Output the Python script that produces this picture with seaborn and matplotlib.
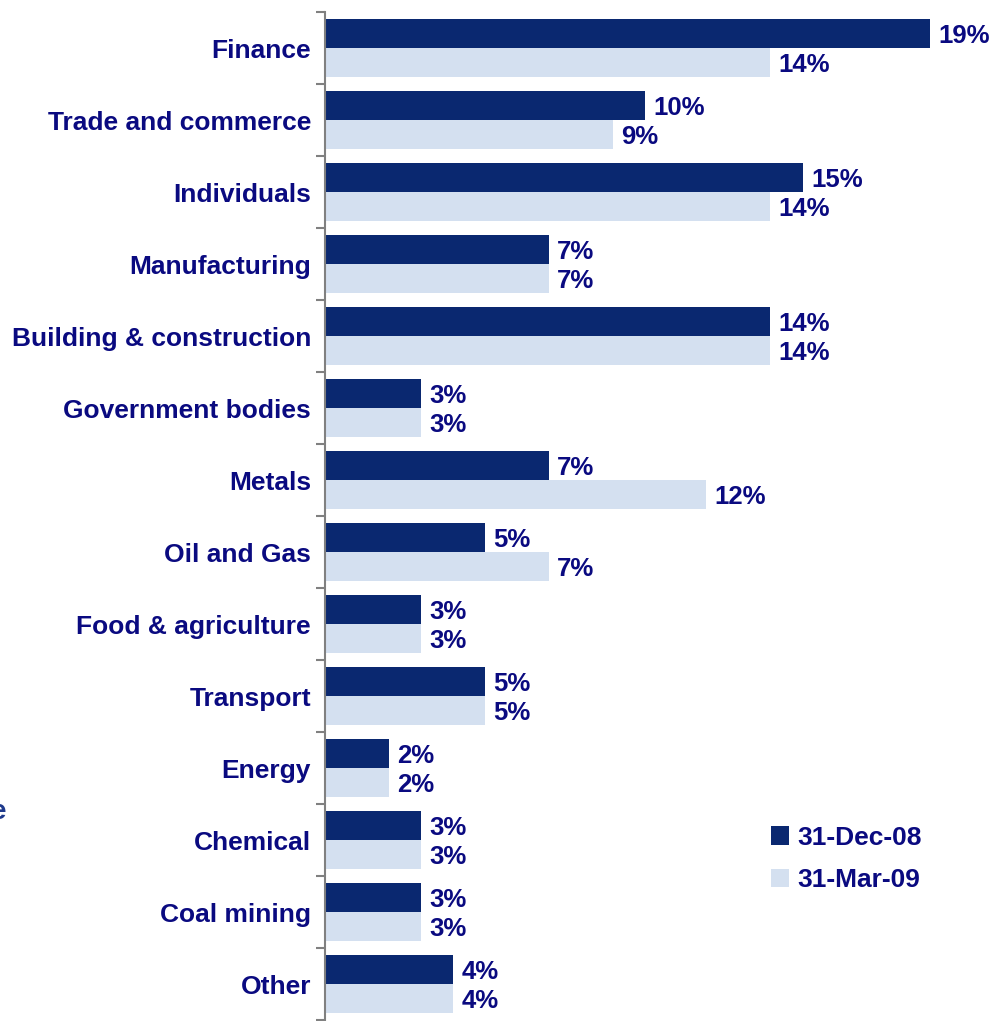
import pandas as pd
import matplotlib
matplotlib.use("Agg")
import matplotlib.pyplot as plt
import seaborn as sns

# Loan portfolio by sector, two reporting dates
sectors = ["Finance", "Trade and commerce", "Individuals", "Manufacturing",
           "Building & construction", "Government bodies", "Metals", "Oil and Gas",
           "Food & agriculture", "Transport", "Energy", "Chemical", "Coal mining", "Other"]
dec08 = [18.9, 10.0, 14.95, 7.0, 13.9, 3.0, 7.0, 5.0, 3.0, 5.0, 2.0, 3.0, 3.0, 4.0]
mar09 = [13.9, 9.0, 13.9, 7.0, 13.9, 3.0, 11.9, 7.0, 3.0, 5.0, 2.0, 3.0, 3.0, 4.0]
dec08_labels = ["19%", "10%", "15%", "7%", "14%", "3%", "7%", "5%", "3%", "5%", "2%", "3%", "3%", "4%"]
mar09_labels = ["14%", "9%", "14%", "7%", "14%", "3%", "12%", "7%", "3%", "5%", "2%", "3%", "3%", "4%"]
dates = ["31-Dec-08", "31-Mar-09"]

DARK = "#0A2870"
LIGHT = "#D4E0F0"
TEXT = "#0A0A80"

df = pd.DataFrame({
    "sector": sectors * 2,
    "value": dec08 + mar09,
    "date": [dates[0]] * len(sectors) + [dates[1]] * len(sectors),
})

sns.set_style("white")
plt.rcParams["font.family"] = ["Liberation Sans", "DejaVu Sans"]
plt.rcParams["font.weight"] = "bold"

fig = plt.figure(figsize=(9.92, 10.21), dpi=100)
ax = fig.add_axes([325 / 992, 1 / 1021, 667 / 992, 1008 / 1021])

sns.barplot(data=df, y="sector", x="value", hue="date", orient="h",
            palette=[DARK, LIGHT], saturation=1, width=0.8, linewidth=0, ax=ax)

# value labels, nudged a bit below the bar centre like the original
for cont, labs in zip(ax.containers, [dec08_labels, mar09_labels]):
    texts = ax.bar_label(cont, labels=labs, padding=6, color=TEXT, fontsize=18.5, fontweight="bold")
    for t in texts:
        x, y = t.xyann
        t.xyann = (x, y - 2)

ax.set_xlim(0, 667 / 32)
ax.set_ylim(len(sectors) - 0.5, -0.5)
ax.set_xlabel("")
ax.set_ylabel("")
ax.set_xticks([])

for s in ["top", "right", "bottom"]:
    ax.spines[s].set_visible(False)
ax.spines["left"].set_color("#808080")
ax.spines["left"].set_linewidth(1.5)

ax.tick_params(axis="y", which="major", left=False, length=0, pad=10, labelsize=19, labelcolor=TEXT)
ax.set_yticks([i - 0.5 for i in range(len(sectors) + 1)], minor=True)
ax.tick_params(axis="y", which="minor", left=True, length=6.5, width=1.5, color="#808080", direction="out")
for t in ax.get_yticklabels():
    t.set_fontweight("bold")

handles, labels = ax.get_legend_handles_labels()
ax.legend(handles, labels, loc="upper left", bbox_to_anchor=(747 / 992, 1 - 802 / 1021),
          bbox_transform=fig.transFigure, frameon=False,
          handlelength=0.7, handleheight=0.7, handletextpad=0.3, labelspacing=0.7,
          labelcolor=TEXT, prop={"weight": "bold", "size": 19})

# cropped letter at the left edge of the original slide
fig.text(6 / 992, 1 - 812 / 1021, "e", ha="right", va="center", color="#1F3A8C",
         fontsize=20, fontweight="bold")

fig.savefig("out.png", dpi=100)
